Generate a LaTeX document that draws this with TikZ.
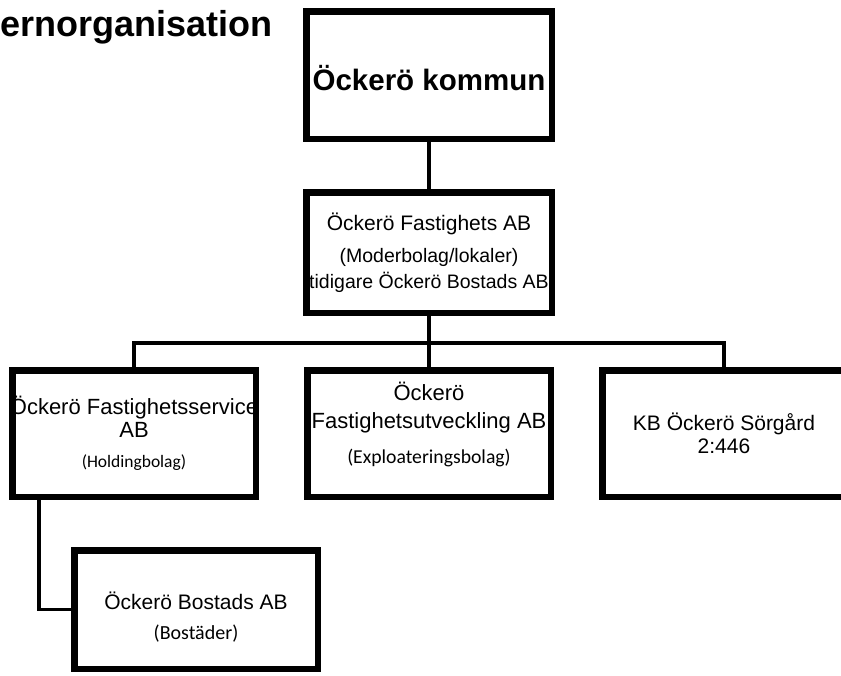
\documentclass[tikz,border=0pt]{standalone}
\usepackage{fontspec}
\setmainfont{Liberation Sans}
\newfontfamily\calfont{Carlito}
\usetikzlibrary{positioning}
\newcommand\orgsize[2]{\fontsize{#1}{#2}\selectfont}
\tikzset{
  orgbox/.style={draw, line width=6.5pt, minimum width=243.5pt, align=center, inner sep=0pt},
  link/.style={line width=3.5pt}
}

\begin{document}
\begin{tikzpicture}[x=1pt,y=-1pt]
  \useasboundingbox (0,0) rectangle (841,675);
  \clip (0,0) rectangle (841,675);
  \node [anchor=base west, inner sep=0pt, font=\bfseries\orgsize{36}{40}] (title) at (0,36) {ernorganisation};
  \node [orgbox, minimum width=245.5pt, minimum height=127.5pt, font=\bfseries\orgsize{29.5}{34}] (kommun) at (429,75)
    {\raisebox{-3pt}[\height][\depth]{Öckerö kommun}};
  \node [orgbox, minimum width=245.5pt, minimum height=120.5pt, font=\orgsize{19.5}{25}, below=47pt of kommun] (fastighets)
    {{\orgsize{21}{25}Öckerö Fastighets AB}\\[7pt] (Moderbolag/lokaler)\\[1pt] tidigare Öckerö Bostads AB};
  \node [orgbox, minimum height=126.5pt, font=\orgsize{22}{25}, below=51pt of fastighets] (utveckling)
    {\raisebox{7pt}[\height][\depth]{\begin{tabular}{@{}c@{}}Öckerö\\[3pt] Fastighetsutveckling AB\\[10pt] {\calfont\orgsize{19.7}{22}(Exploateringsbolag)}\end{tabular}}};
  \node [orgbox, minimum height=126.5pt, font=\orgsize{22}{23}, left=45pt of utveckling] (service)
    {\makebox[0pt]{Öckerö Fastighetsservice}\\ AB\\[7pt] {\calfont\orgsize{17.5}{20}(Holdingbolag)}};
  \node [orgbox, minimum height=126.5pt, font=\orgsize{21}{23}, right=45pt of utveckling] (sorgard)
    {KB Öckerö Sörgård\\ 2:446};
  \node [orgbox, minimum height=118.5pt, font=\orgsize{21}{25}, below right=47pt and 62pt of service.south west] (bostads)
    {\raisebox{-10pt}[\height][\depth]{\begin{tabular}{@{}c@{}}Öckerö Bostads AB\\[5pt] {\calfont\orgsize{20}{22}(Bostäder)}\end{tabular}}};
  \coordinate [below=27pt of fastighets.south] (split);
  \draw [link] (kommun) -- (fastighets);
  \draw [link] (fastighets) -- (utveckling);
  \draw [link] (service) |- (split) -| (sorgard);
  \draw [link] ([xshift=30pt]service.south west) |- (bostads);
\end{tikzpicture}
\end{document}
